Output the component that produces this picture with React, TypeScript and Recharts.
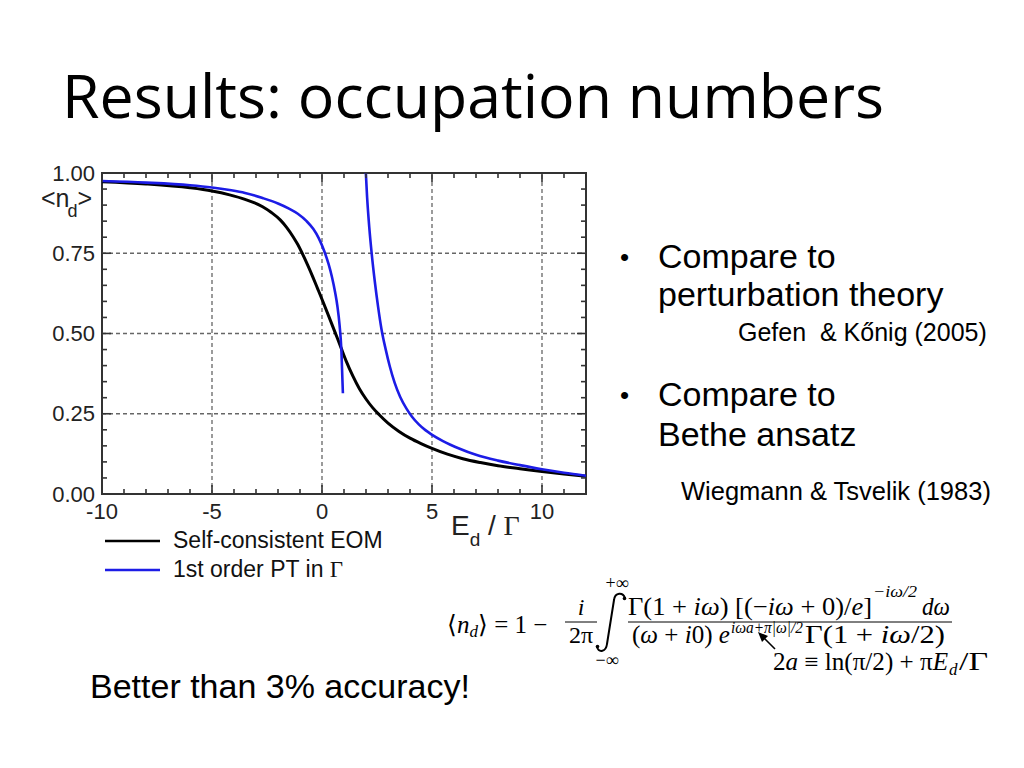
import React from 'react';
import { LineChart, Line, XAxis, YAxis, ReferenceLine, ReferenceArea, Legend } from 'recharts';

// Self-consistent EOM curve
const eomX = [-10, -8, -6, -5, -4.2, -3.5, -2.7, -2.3, -1.9, -1.6, -1.3, -1.1, -0.9, -0.65, -0.41, -0.2, 0.05, 0.3, 0.5, 0.7, 0.88, 1.1, 1.4, 1.7, 2.0, 2.3, 2.6, 3.0, 3.5, 4.0, 4.5, 5.0, 5.7, 6.4, 7.2, 8.0, 9.0, 10.0, 11.0, 12.0];
const eomY = [0.973, 0.966, 0.954, 0.944, 0.932, 0.918, 0.895, 0.877, 0.854, 0.83, 0.8, 0.777, 0.75, 0.713, 0.675, 0.64, 0.598, 0.555, 0.52, 0.485, 0.453, 0.414, 0.368, 0.328, 0.296, 0.269, 0.247, 0.221, 0.195, 0.174, 0.157, 0.142, 0.124, 0.11, 0.098, 0.088, 0.079, 0.07, 0.062, 0.055];

// 1st order PT, branch below the divergence
const ptLowX = [-10, -8, -6, -5, -4.2, -3.5, -2.7, -2, -1.5, -1.1, -0.7, -0.4, -0.15, 0.1, 0.3, 0.45, 0.6, 0.7, 0.8, 0.88, 0.95];
const ptLowY = [0.975, 0.97, 0.962, 0.955, 0.947, 0.938, 0.922, 0.905, 0.889, 0.873, 0.85, 0.826, 0.797, 0.757, 0.716, 0.677, 0.627, 0.585, 0.525, 0.45, 0.314];

// 1st order PT, branch above the divergence
const ptHighX = [1.97, 2.05, 2.15, 2.25, 2.4, 2.55, 2.7, 2.9, 3.08, 3.3, 3.55, 3.84, 4.1, 4.4, 4.7, 4.97, 5.5, 6.26, 7, 8, 9, 10, 11, 12];
const ptHighY = [1.03, 0.925, 0.83, 0.755, 0.662, 0.583, 0.515, 0.449, 0.398, 0.347, 0.303, 0.266, 0.24, 0.217, 0.199, 0.186, 0.165, 0.141, 0.122, 0.104, 0.09, 0.077, 0.066, 0.057];

const xTicks = [-10, -9, -8, -7, -6, -5, -4, -3, -2, -1, 0, 1, 2, 3, 4, 5, 6, 7, 8, 9, 10, 11, 12];
const xMajor = [-10, -5, 0, 5, 10];
const yTicks = [0, 0.05, 0.1, 0.15, 0.2, 0.25, 0.3, 0.35, 0.4, 0.45, 0.5, 0.55, 0.6, 0.65, 0.7, 0.75, 0.8, 0.85, 0.9, 0.95, 1];
const yMajor = [0, 0.25, 0.5, 0.75, 1];
const yMajorLabels = ['0.00', '0.25', '0.50', '0.75', '1.00'];
const xGrid = [-5, 0, 5, 10];
const yGrid = [0.25, 0.5, 0.75];
const legendOrder = ['Self-consistent EOM', '1st order PT in Γ'];

const zip = (xs: number[], ys: number[]) => xs.map((x, i) => ({ x, y: ys[i] }));
const eomData = zip(eomX, eomY);
const ptLowData = zip(ptLowX, ptLowY);
const ptHighData = zip(ptHighX, ptHighY);

const SANS = '"Liberation Sans", Arial, Helvetica, sans-serif';
const SERIF = '"Liberation Serif", "Times New Roman", serif';
const PLOT_W = 484;
const PLOT_H = 321;
const AXIS = '#333';
const BLUE = '#1c1ce6';

function XTick(props: any) {
  const { x, y, payload } = props;
  const v = payload.value;
  const major = xMajor.includes(v);
  const len = major ? 9 : 5;
  return (
    <g>
      <line x1={x} y1={y} x2={x} y2={y - len} stroke={AXIS} strokeWidth={1.6} />
      <line x1={x} y1={y - PLOT_H} x2={x} y2={y - PLOT_H + len} stroke={AXIS} strokeWidth={1.6} />
      {major && (
        <text x={x} y={y + 25} textAnchor="middle" fontSize={22} fontFamily={SANS} fill="#222">
          {String(v)}
        </text>
      )}
    </g>
  );
}

function YTick(props: any) {
  const { x, y, payload } = props;
  const v = payload.value;
  const idx = yMajor.findIndex((m) => Math.abs(m - v) < 1e-6);
  const major = idx >= 0;
  const len = major ? 9 : 5;
  return (
    <g>
      <line x1={x} y1={y} x2={x + len} y2={y} stroke={AXIS} strokeWidth={1.6} />
      <line x1={x + PLOT_W} y1={y} x2={x + PLOT_W - len} y2={y} stroke={AXIS} strokeWidth={1.6} />
      {major && (
        <text x={x - 7} y={y} dy="0.35em" textAnchor="end" fontSize={22} fontFamily={SANS} fill="#222">
          {yMajorLabels[idx]}
        </text>
      )}
    </g>
  );
}

function renderLegend(props: any) {
  const items = (props.payload || [])
    .filter((p: any) => p.type !== 'none')
    .sort((a: any, b: any) => legendOrder.indexOf(String(a.value)) - legendOrder.indexOf(String(b.value)));
  return (
    <div style={{ fontFamily: SANS, fontSize: 23, color: '#111' }}>
      {items.map((p: any) => {
        const name = String(p.value);
        const gamma = name.endsWith('Γ');
        return (
          <div key={name} style={{ display: 'flex', alignItems: 'center', height: 29 }}>
            <svg width={55} height={6} style={{ display: 'block' }}>
              <line x1={0} y1={3} x2={55} y2={3} stroke={p.color} strokeWidth={2.6} />
            </svg>
            <span style={{ marginLeft: 13, whiteSpace: 'nowrap' }}>
              {gamma ? name.slice(0, -1) : name}
              {gamma && <span style={{ fontFamily: SERIF }}>Γ</span>}
            </span>
          </div>
        );
      })}
    </div>
  );
}

function Slide() {
  return (
    <svg width={1024} height={768} style={{ position: 'absolute', left: 0, top: 0, pointerEvents: 'none' }}>
      <text x={62} y={118} fontSize={60} fontFamily={'"Comic Sans MS", "Open Sans", sans-serif'} textLength={822} lengthAdjust="spacingAndGlyphs" fill="#000">
        Results: occupation numbers
      </text>

      {/* axis titles */}
      <text x={41} y={207} fontSize={25} fontFamily={SANS} fill="#222">
        {'<n'}
        <tspan fontSize={18} dx={-2} dy={10}>d</tspan>
        <tspan dy={-10}>{'>'}</tspan>
      </text>
      <text x={451} y={535} fontSize={28} fontFamily={SANS} fill="#222">
        E<tspan fontSize={19} dy={11}>d</tspan>
        <tspan dy={-11}> / </tspan>
        <tspan fontFamily={SERIF}>Γ</tspan>
      </text>

      {/* bullets */}
      <g fontFamily={SANS} fill="#000">
        <text x={620} y={266} fontSize={26}>•</text>
        <text x={658} y={268} fontSize={34}>Compare to</text>
        <text x={658} y={306} fontSize={34}>perturbation theory</text>
        <text x={738} y={341} fontSize={25}>{'Gefen\u00a0 & Kőnig (2005)'}</text>
        <text x={620} y={404} fontSize={26}>•</text>
        <text x={658} y={406} fontSize={34}>Compare to</text>
        <text x={658} y={446} fontSize={34}>Bethe ansatz</text>
        <text x={681} y={500} fontSize={25.5}>Wiegmann &amp; Tsvelik (1983)</text>
        <text x={90} y={698} fontSize={34}>Better than 3% accuracy!</text>
      </g>

      {/* formula */}
      <g fontFamily={SERIF} fill="#000">
        <text x={447} y={633} fontSize={25}>
          ⟨<tspan fontStyle="italic">n</tspan>
          <tspan fontStyle="italic" fontSize={17} dy={4}>d</tspan>
          <tspan dy={-4}>⟩ = 1 − </tspan>
        </text>
        <text x={581} y={615} fontSize={24} textAnchor="middle" fontStyle="italic">i</text>
        <line x1={565} y1={622} x2={597} y2={622} stroke="#000" strokeWidth={1} />
        <text x={581} y={643} fontSize={24} textAnchor="middle">2π</text>
        {/* integral sign */}
        <path
          d="M 625 598 C 623 592, 615 592, 614 600 L 607 644 C 606 652, 599 653, 597 647"
          fill="none"
          stroke="#000"
          strokeWidth={2}
          strokeLinecap="round"
        />
        <circle cx={624.5} cy={598.5} r={1.8} fill="#000" />
        <circle cx={597.5} cy={646.5} r={1.8} fill="#000" />
        <text x={617} y={589} fontSize={18} textAnchor="middle">+∞</text>
        <text x={607} y={666} fontSize={18} textAnchor="middle">−∞</text>

        <text x={628} y={615} fontSize={25} textLength={244} lengthAdjust="spacingAndGlyphs">
          Γ(1 + <tspan fontStyle="italic">iω</tspan>) [(−<tspan fontStyle="italic">iω</tspan> + 0)/<tspan fontStyle="italic">e</tspan>]
        </text>
        <text x={873} y={597} fontSize={17} fontStyle="italic" textLength={44} lengthAdjust="spacingAndGlyphs">−iω/2</text>
        <text x={922} y={615} fontSize={25} fontStyle="italic" textLength={28} lengthAdjust="spacingAndGlyphs">dω</text>
        <line x1={628} y1={622} x2={952} y2={622} stroke="#000" strokeWidth={1} />

        <text x={632} y={643} fontSize={25} textLength={98} lengthAdjust="spacingAndGlyphs">
          (<tspan fontStyle="italic">ω</tspan> + <tspan fontStyle="italic">i</tspan>0) <tspan fontStyle="italic">e</tspan>
        </text>
        <text x={731} y={633} fontSize={17} fontStyle="italic" textLength={72} lengthAdjust="spacingAndGlyphs">iωa+π|ω|/2</text>
        <text x={805} y={643} fontSize={25} textLength={140} lengthAdjust="spacingAndGlyphs">
          Γ(1 + <tspan fontStyle="italic">iω</tspan>/2)
        </text>

        <text x={773} y={670} fontSize={25} textLength={175} lengthAdjust="spacingAndGlyphs">
          2<tspan fontStyle="italic">a</tspan> ≡ ln(π/2) + π<tspan fontStyle="italic">E</tspan>
        </text>
        <text x={949} y={675} fontSize={17} fontStyle="italic">d</text>
        <text x={959} y={670} fontSize={25} textLength={29} lengthAdjust="spacingAndGlyphs">/Γ</text>

        <line x1={775} y1={649} x2={763} y2={637} stroke="#000" strokeWidth={1.6} />
        <polygon points="758,632 768,636 762,642" fill="#000" />
      </g>
    </svg>
  );
}

export default function App() {
  return (
    <div style={{ position: 'absolute', left: 0, top: 0, width: 1024, height: 768, background: '#fff' }}>
      <div style={{ position: 'absolute', left: 0, top: 140 }}>
        <LineChart width={620} height={460} margin={{ top: 33, right: 34, bottom: 76, left: 0 }}>
          <XAxis
            type="number"
            dataKey="x"
            domain={[-10, 12]}
            ticks={xTicks}
            interval={0}
            allowDataOverflow
            axisLine={false}
            tickLine={false}
            tickSize={0}
            tickMargin={0}
            height={30}
            tick={<XTick />}
          />
          <YAxis
            type="number"
            dataKey="y"
            domain={[0, 1]}
            ticks={yTicks}
            interval={0}
            allowDataOverflow
            axisLine={false}
            tickLine={false}
            tickSize={0}
            tickMargin={0}
            width={102}
            tick={<YTick />}
          />
          {xGrid.map((v) => (
            <ReferenceLine key={'gx' + v} x={v} stroke="#666" strokeWidth={1.3} strokeDasharray="4 3" />
          ))}
          {yGrid.map((v) => (
            <ReferenceLine key={'gy' + v} y={v} stroke="#666" strokeWidth={1.3} strokeDasharray="4 3" />
          ))}
          <ReferenceArea x1={-10} x2={12} y1={0} y2={1} fill="none" fillOpacity={0} stroke={AXIS} strokeWidth={2} />
          <Line
            data={eomData}
            dataKey="y"
            name="Self-consistent EOM"
            type="monotone"
            stroke="#000"
            strokeWidth={3}
            dot={false}
            isAnimationActive={false}
            legendType="plainline"
          />
          <Line
            data={ptLowData}
            dataKey="y"
            name="1st order PT in Γ"
            type="monotone"
            stroke={BLUE}
            strokeWidth={2.6}
            dot={false}
            isAnimationActive={false}
            legendType="plainline"
          />
          <Line
            data={ptHighData}
            dataKey="y"
            name="PT upper branch"
            type="monotone"
            stroke={BLUE}
            strokeWidth={2.6}
            dot={false}
            isAnimationActive={false}
            legendType="none"
          />
          <Legend
            layout="vertical"
            align="center"
            verticalAlign="middle"
            wrapperStyle={{ left: 105, top: 386, width: 320 }}
            content={renderLegend}
          />
        </LineChart>
      </div>
      <Slide />
    </div>
  );
}
